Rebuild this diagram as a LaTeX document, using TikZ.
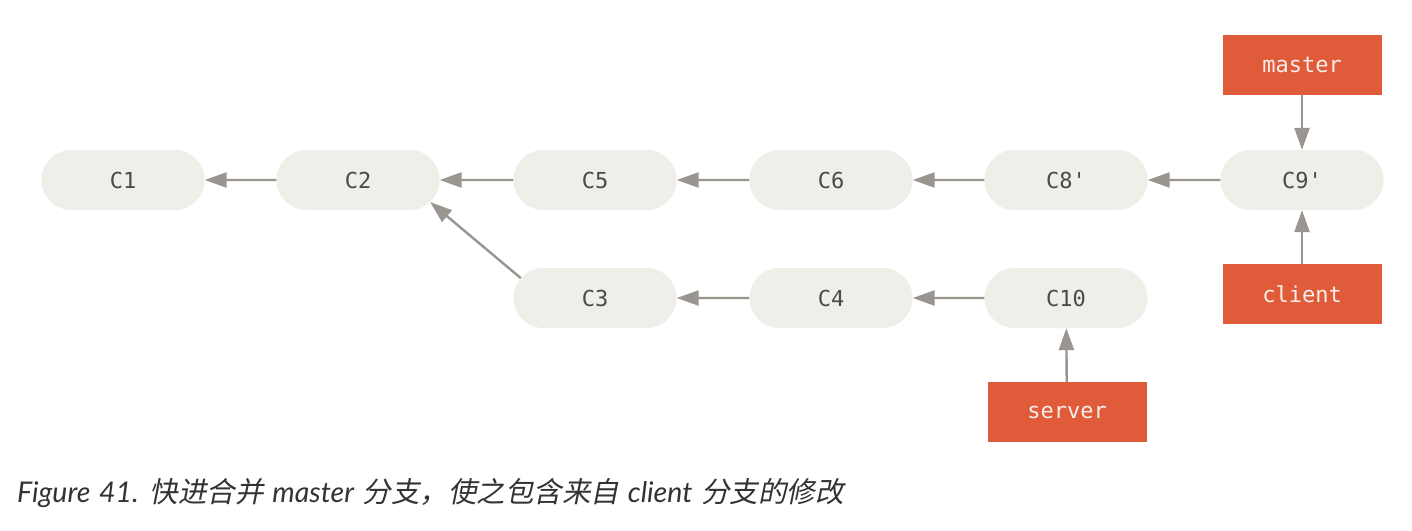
\documentclass[tikz,border=0pt]{standalone}
\usepackage{fontspec}
\usetikzlibrary{arrows.meta,shapes.misc}
\newfontfamily\monof{DejaVu Sans Mono}
\newfontfamily\capfont{Lato}[WordSpace=1.3]
\newfontfamily\cjkf{Noto Sans CJK SC}[FakeSlant=0.2]
\definecolor{cfill}{HTML}{EFEEE8}
\definecolor{ctext}{HTML}{4A4A48}
\definecolor{lfill}{HTML}{E05B3A}
\definecolor{ltext}{HTML}{F6EFEA}
\definecolor{arr}{HTML}{9A958F}
\definecolor{captc}{HTML}{333333}
\tikzset{
  commit/.style={rounded rectangle, fill=cfill, minimum width=163pt, minimum height=60pt, inner sep=0pt, text=ctext, font=\monof\fontsize{22}{24}\selectfont},
  label/.style={rectangle, fill=lfill, minimum width=159pt, minimum height=60pt, inner sep=0pt, text=ltext, font=\monof\fontsize{22}{24}\selectfont},
  conn/.style={draw=arr, line width=2.4pt, -{Triangle[length=22pt,width=15pt]}},
}
\begin{document}
\begin{tikzpicture}[x=1pt,y=-1pt]
\useasboundingbox[fill=white] (0,0) rectangle (1412,530);
\node[commit] (C1) at (123,180) {C1};
\node[commit] (C2) at (358,180) {C2};
\node[commit] (C5) at (595,180) {C5};
\node[commit] (C6) at (831,180) {C6};
\node[commit] (C8) at (1066,180) {C8'};
\node[commit] (C9) at (1302,180) {C9'};
\node[commit] (C3) at (595,298) {C3};
\node[commit] (C4) at (831,298) {C4};
\node[commit] (C10) at (1066,298) {C10};
\node[label] (master) at (1302,65) {master};
\node[label] (client) at (1302,294) {client};
\node[label] (server) at (1067,412) {server};
\draw[conn] (C2) -- (C1);
\draw[conn] (C5) -- (C2);
\draw[conn] (C6) -- (C5);
\draw[conn] (C8) -- (C6);
\draw[conn] (C9) -- (C8);
\draw[conn] (C4) -- (C3);
\draw[conn] (C10) -- (C4);
\draw[conn] (C3.165) -- (C2.-17);
\draw[conn] (master) -- (C9);
\draw[conn] (client) -- (C9);
\draw[conn] (server) -- (C10);
\node[anchor=base west, inner sep=0pt, text=captc, font=\capfont\itshape\fontsize{28.5}{30}\selectfont] (cap) at (17,502)
  {Figure 41. {\cjkf 快进合并} master {\cjkf 分支，使之包含来自} client {\cjkf 分支的修改}};
\end{tikzpicture}
\end{document}
